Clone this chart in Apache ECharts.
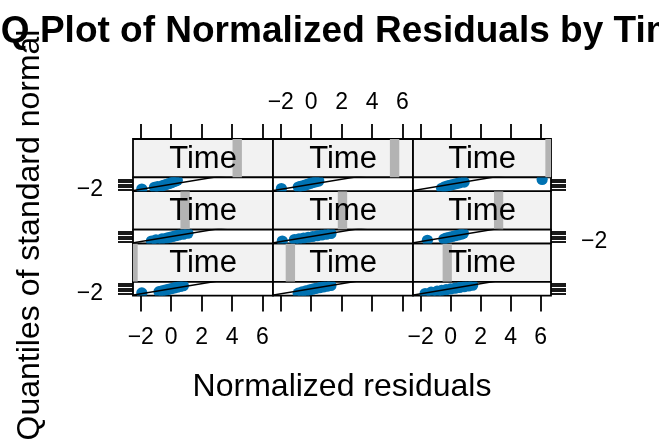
<!DOCTYPE html>
<html>
<head>
<meta charset="utf-8">
<script src="https://cdn.jsdelivr.net/npm/echarts@6/dist/echarts.min.js"></script>
<style>
  html, body { margin: 0; padding: 0; background: #fff; }
  #chart { width: 659px; height: 443px; }
</style>
</head>
<body>
<div id="chart"></div>
<script>
// [normalized residual, quantile of standard normal] per Time level (1..9)
const time1 = [[-1.93,-1.7],[-0.8,-1.2],[-0.6,-0.9],[-0.4,-0.6],[-0.2,-0.3],[0.0,0.0],[0.2,0.3],[0.4,0.6],[0.6,0.9],[0.8,1.2]]
const time2 = [[-0.85,-1.8],[-0.6,-1.3],[-0.35,-0.9],[-0.1,-0.5],[0.1,-0.2],[0.3,0.1],[0.55,0.4],[0.8,0.7],[1.05,1.0],[1.3,1.3]]
const time3 = [[-1.7,-1.9],[-1.3,-1.4],[-0.9,-1.0],[-0.6,-0.7],[-0.3,-0.4],[0.0,-0.1],[0.3,0.2],[0.6,0.5],[0.9,0.8],[1.2,1.1],[1.47,1.4]]
const time4 = [[-1.3,-1.8],[-1.0,-1.3],[-0.6,-0.9],[-0.3,-0.6],[-0.1,-0.3],[0.1,0.0],[0.3,0.3],[0.5,0.6],[0.8,0.9],[1.1,1.3]]
const time5 = [[-1.9,-1.8],[-1.1,-1.2],[-0.8,-0.9],[-0.5,-0.6],[-0.2,-0.3],[0.1,0.0],[0.4,0.3],[0.7,0.6],[1.0,0.9],[1.3,1.2]]
const time6 = [[-1.55,-1.5],[-0.45,-1.0],[-0.3,-0.6],[-0.1,-0.3],[0.1,0.0],[0.3,0.3],[0.5,0.6],[0.7,0.9],[0.85,1.3]]
const time7 = [[-1.93,-1.9],[-1.1,-1.2],[-0.9,-0.9],[-0.6,-0.6],[-0.45,-0.3],[-0.3,0.0],[-0.15,0.3],[0.0,0.6],[0.1,0.9],[0.25,1.2],[0.4,1.6]]
const time8 = [[-1.96,-1.7],[-0.85,-1.1],[-0.7,-0.8],[-0.5,-0.5],[-0.35,-0.2],[-0.2,0.1],[-0.05,0.4],[0.1,0.7],[0.3,1.0],[0.5,1.3]]
const time9 = [[-0.6,-1.6],[-0.4,-1.0],[-0.2,-0.6],[0.0,-0.3],[0.2,0.0],[0.4,0.3],[0.6,0.6],[0.9,0.9],[6.1,1.9]]
const timePanels = [time1, time2, time3, time4, time5, time6, time7, time8, time9]

// shingle intervals shown in the strips
const shingleLo = [0.73, 1.73, 2.73, 3.73, 4.73, 5.73, 6.73, 7.73, 8.73]
const shingleHi = [1.27, 2.27, 3.27, 4.27, 5.27, 6.27, 7.27, 8.27, 9.27]
const timeRange = [1.0, 9.06]

const residRange = [-2.51, 6.69]
const residTicks = [-2, 0, 2, 4, 6]
const quantRange = [-2.745, 2.745]
const quantTicks = [-2, -1, 0, 1, 2]
const quantLabels = [-2]
// reference line y = x
const refLineX = [-3, 7]
const refLineY = [-3, 7]

const FONT = 'Liberation Sans, Arial, Helvetica, sans-serif'
const colLeft = [133, 273, 413]
const colW = [140, 140, 138]
const rowTop = [139, 191.2, 243.4]
const stripH = 38.4
const panelH = 13.8

const minus = v => String(v).replace('-', '\u2212')
const tickStyle = { color: '#000', width: 1.8 }

const grid = [], xAxis = [], yAxis = [], series = []

timePanels.forEach((pts, k) => {
  const row = 2 - Math.floor(k / 3)
  const col = k % 3
  // strip
  const sg = grid.length
  grid.push({ left: colLeft[col], top: rowTop[row], width: colW[col], height: stripH,
    show: true, backgroundColor: '#F2F2F2', borderColor: '#000', borderWidth: 1.8 })
  const sx = xAxis.length
  xAxis.push({ type: 'value', gridIndex: sg, min: timeRange[0], max: timeRange[1], show: false })
  const sy = yAxis.length
  yAxis.push({ type: 'value', gridIndex: sg, min: 0, max: 1, show: false })
  if (row === 0) {
    xAxis.push({ type: 'value', gridIndex: sg, position: 'top', min: residRange[0], max: residRange[1],
      axisLine: { show: false, onZero: false }, splitLine: { show: false },
      axisTick: { show: true, customValues: residTicks, length: 15, lineStyle: tickStyle },
      axisLabel: { show: col === 1, customValues: residTicks, margin: 25, fontSize: 23,
        color: '#000', fontFamily: FONT, formatter: minus } })
  }
  series.push({
    type: 'custom', xAxisIndex: sx, yAxisIndex: sy, clip: true, silent: true,
    data: [[shingleLo[k], shingleHi[k]]],
    renderItem: (params, api) => {
      const p0 = api.coord([api.value(0), 0])
      const p1 = api.coord([api.value(1), 1])
      const cs = params.coordSys
      return { type: 'group', children: [
        { type: 'rect', shape: { x: p0[0], y: p1[1], width: p1[0] - p0[0], height: p0[1] - p1[1] },
          style: { fill: '#B3B3B3' } },
        { type: 'text', style: { text: 'Time', x: cs.x + cs.width / 2, y: cs.y + cs.height / 2 + 1,
          align: 'center', verticalAlign: 'middle', fontSize: 31, fontFamily: FONT, fill: '#000' } }
      ] }
    }
  })

  // panel
  const pg = grid.length
  grid.push({ left: colLeft[col], top: rowTop[row] + stripH, width: colW[col], height: panelH,
    show: true, backgroundColor: '#fff', borderColor: '#000', borderWidth: 1.8 })
  const px = xAxis.length
  xAxis.push({ type: 'value', gridIndex: pg, position: 'bottom', min: residRange[0], max: residRange[1],
    axisLine: { show: false, onZero: false }, splitLine: { show: false },
    axisTick: { show: row === 2, customValues: residTicks, length: 16, lineStyle: tickStyle },
    axisLabel: { show: row === 2 && col !== 1, customValues: residTicks, margin: 31, fontSize: 23,
      color: '#000', fontFamily: FONT, formatter: minus } })
  const py = yAxis.length
  yAxis.push({ type: 'value', gridIndex: pg, position: col === 2 ? 'right' : 'left',
    min: quantRange[0], max: quantRange[1],
    axisLine: { show: false, onZero: false }, splitLine: { show: false },
    axisTick: { show: col !== 1, customValues: quantTicks, length: 15, lineStyle: tickStyle },
    axisLabel: { show: (col === 0 && row !== 1) || (col === 2 && row === 1), customValues: quantLabels,
      margin: 30, fontSize: 23, color: '#000', fontFamily: FONT, formatter: minus } })
  series.push({
    type: 'custom', xAxisIndex: px, yAxisIndex: py, clip: true, silent: true, z: 2,
    data: pts,
    renderItem: (params, api) => {
      const c = api.coord([api.value(0), api.value(1)])
      return { type: 'circle', shape: { cx: c[0], cy: c[1], r: 5.6 }, style: { fill: '#0072B2' } }
    }
  })
  series.push({
    type: 'line', xAxisIndex: px, yAxisIndex: py, clip: true, silent: true, z: 3,
    symbol: 'none', lineStyle: { color: '#000', width: 1.5 },
    data: [[refLineX[0], refLineY[0]], [refLineX[1], refLineY[1]]]
  })
})

const chart = echarts.init(document.getElementById('chart'))
chart.setOption({
  animation: false,
  backgroundColor: '#fff',
  title: {
    text: 'Q-Q Plot of Normalized Residuals by Time',
    left: 'center', top: 8,
    textStyle: { fontSize: 37, fontWeight: 'bold', fontFamily: FONT, color: '#000' }
  },
  grid, xAxis, yAxis, series,
  graphic: [
    { type: 'text', x: 342, y: 387, z: 100,
      style: { text: 'Normalized residuals', align: 'center', verticalAlign: 'middle',
        fontSize: 32, fontFamily: FONT, fill: '#000' } },
    { type: 'text', x: 30, y: 235, rotation: Math.PI / 2, z: 100,
      style: { text: 'Quantiles of standard normal', align: 'center', verticalAlign: 'middle',
        fontSize: 32, fontFamily: FONT, fill: '#000' } }
  ]
})
</script>
</body>
</html>
